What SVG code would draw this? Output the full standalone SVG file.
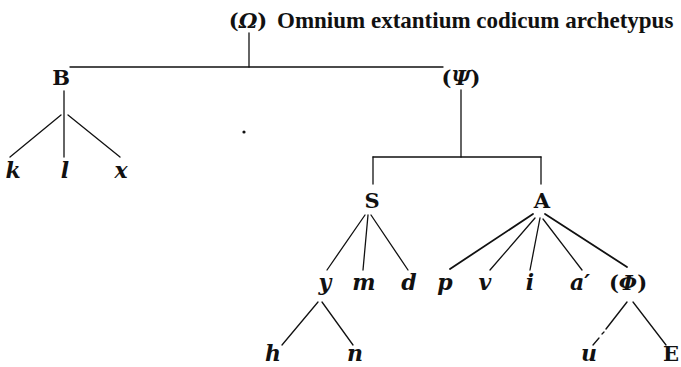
<svg xmlns="http://www.w3.org/2000/svg" width="681" height="367" viewBox="0 0 681 367">
<style>
text{font-family:"DejaVu Serif","Liberation Serif",serif;font-weight:bold;fill:#111;text-anchor:middle}
.r{font-size:21px}
.i{font-size:22px;font-style:italic}
.t{font-family:"Liberation Serif",serif;font-size:23px;text-anchor:start}
line,path{stroke:#111;stroke-width:1.3;fill:none;stroke-linecap:round}
.th{stroke-width:1.8}
</style>
<rect width="681" height="367" fill="#fff"/>
<g id="connectors">
<line x1="249" y1="33" x2="249" y2="67"/>
<line x1="70" y1="67" x2="443" y2="67"/>
<line x1="64" y1="91" x2="64" y2="157"/>
<line x1="61" y1="115" x2="10" y2="157"/>
<line x1="68" y1="115" x2="120" y2="157"/>
<line x1="461" y1="90" x2="461" y2="157"/>
<line x1="373" y1="157" x2="541" y2="157"/>
<line x1="373" y1="157" x2="373" y2="184"/>
<line x1="541" y1="157" x2="541" y2="184"/>
<line x1="365" y1="215" x2="327" y2="270"/>
<line x1="368" y1="215" x2="363" y2="270"/>
<line x1="371" y1="215" x2="408" y2="270"/>
<line class="th" x1="533" y1="214" x2="450" y2="269"/>
<line x1="535" y1="218" x2="490" y2="270"/>
<line x1="540" y1="218" x2="530" y2="270"/>
<line x1="543" y1="219" x2="582" y2="270"/>
<line class="th" x1="545" y1="214" x2="627" y2="267"/>
<line x1="318" y1="302" x2="282" y2="345"/>
<line x1="322" y1="302" x2="353" y2="345"/>
<line x1="627" y1="302" x2="606" y2="329" style="stroke-width:1.4"/>
<line x1="604" y1="332" x2="602" y2="334"/>
<line x1="599" y1="338" x2="593" y2="345"/>
<line x1="633" y1="302" x2="666" y2="345"/>
</g>
<circle cx="244" cy="132" r="1.6" fill="#111"/>
<g id="omega">
<text class="r" x="248" y="28">(<tspan font-style="italic">Ω</tspan>)</text>
<text class="t" x="277" y="28">Omnium extantium codicum archetypus</text>
</g>
<g id="B"><text class="r" x="61" y="85">B</text></g>
<g id="psi"><text class="r" x="461" y="85">(<tspan font-style="italic">Ψ</tspan>)</text></g>
<g id="k"><text class="i" x="13" y="178">k</text></g>
<g id="l"><text class="i" x="65" y="178">l</text></g>
<g id="x"><text class="i" x="121" y="178">x</text></g>
<g id="S"><text class="r" x="372" y="208">S</text></g>
<g id="A"><text class="r" x="542" y="208">A</text></g>
<g id="y"><text class="i" x="325" y="290">y</text></g>
<g id="m"><text class="i" x="364" y="290">m</text></g>
<g id="d"><text class="i" x="409" y="290">d</text></g>
<g id="p"><text class="i" x="445" y="290">p</text></g>
<g id="v"><text class="i" x="485" y="290">v</text></g>
<g id="i"><text class="i" x="530" y="290">i</text></g>
<g id="a"><text class="i" x="580" y="290">a′</text></g>
<g id="phi"><text class="r" x="628" y="290">(<tspan font-style="italic">Φ</tspan>)</text></g>
<g id="h"><text class="i" x="273" y="361">h</text></g>
<g id="n"><text class="i" x="355" y="361">n</text></g>
<g id="u"><text class="i" x="589" y="361">u</text></g>
<g id="E"><text class="r" x="671" y="361">E</text></g>
</svg>
